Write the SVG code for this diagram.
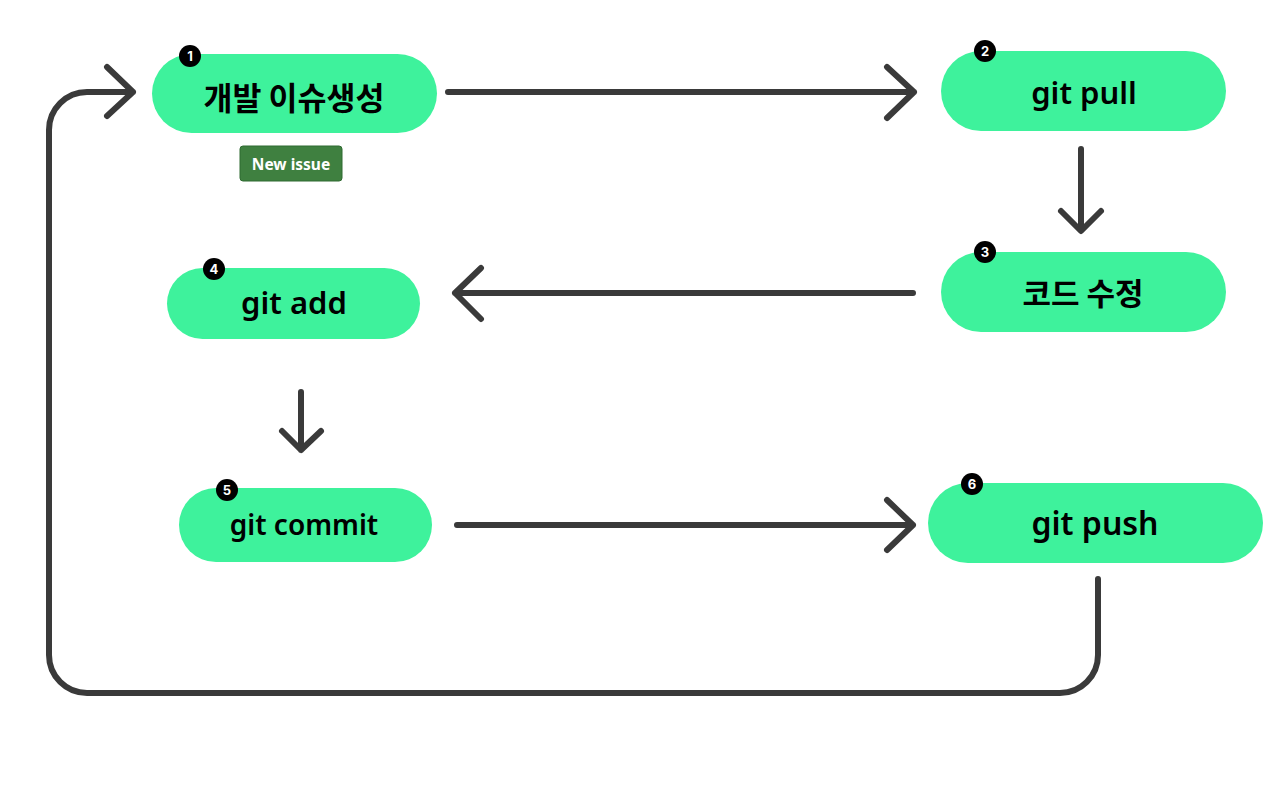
<svg xmlns="http://www.w3.org/2000/svg" width="1280" height="788" viewBox="0 0 1280 788">
<style>
.pill{fill:#3ef29c}
.lbl{font-family:"Noto Sans","Noto Sans CJK KR",sans-serif;font-weight:600;fill:#000;text-anchor:middle;dominant-baseline:central}
.kr{font-family:"Noto Sans CJK KR","Noto Sans",sans-serif;font-weight:700;fill:#000;text-anchor:middle;dominant-baseline:central}
.badge{fill:#000}
.num{font-family:Inter,"Liberation Sans",sans-serif;font-weight:700;font-size:13px;fill:#fff;text-anchor:middle;dominant-baseline:central}
.con{fill:none;stroke:#3a3a3a;stroke-width:6;stroke-linecap:round;stroke-linejoin:round}
</style>
<rect width="1280" height="788" fill="#fff"/>
<g id="connectors">
<path class="con" d="M448 92 H914 M887 67 L914 92 L887 118"/>
<path class="con" d="M1081 149 V230 M1061 211 L1081 231 L1101 211"/>
<path class="con" d="M913 293 H455 M481 268 L455 293 L481 319"/>
<path class="con" d="M301 392 V450 M282 431 L301 450 L321 431"/>
<path class="con" d="M457 525 H913 M887 500 L913 525 L887 550"/>
<path class="con" d="M1098 579 V655 A38 38 0 0 1 1060 693 H87 A38 38 0 0 1 49 655 V130 A38 38 0 0 1 87 92 H133 M107 67 L133 92 L107 116"/>
</g>
<g id="node1">
<rect class="pill" x="152" y="54" width="285" height="79" rx="39.5"/>
<text class="kr" x="294" y="96" font-size="31.5">개발 이슈생성</text>
<circle class="badge" cx="190" cy="56" r="11"/>
<text class="num" x="190" y="56">1</text>
</g>
<g id="new-issue">
<rect x="240" y="146" width="102" height="35" rx="3" fill="#3f8040" stroke="#2f6a31" stroke-width="1"/>
<text x="291" y="164" font-family="'Noto Sans',sans-serif" font-weight="700" font-size="15.5" fill="#fff" text-anchor="middle" dominant-baseline="central">New issue</text>
</g>
<g id="node2">
<rect class="pill" x="941" y="51" width="285" height="80" rx="40"/>
<text class="lbl" x="1084" y="92" font-size="31">git pull</text>
<circle class="badge" cx="985" cy="51" r="11"/>
<text class="num" x="985" y="51">2</text>
</g>
<g id="node3">
<rect class="pill" x="941" y="252" width="285" height="80" rx="40"/>
<text class="kr" x="1083" y="291" font-size="31">코드 수정</text>
<circle class="badge" cx="985" cy="252" r="11"/>
<text class="num" x="985" y="252">3</text>
</g>
<g id="node4">
<rect class="pill" x="167" y="268" width="253" height="71" rx="35.5"/>
<text class="lbl" x="294" y="302" font-size="31">git add</text>
<circle class="badge" cx="214" cy="269" r="11"/>
<text class="num" x="214" y="269">4</text>
</g>
<g id="node5">
<rect class="pill" x="179" y="488" width="253" height="74" rx="37"/>
<text class="lbl" x="304" y="524" font-size="28">git commit</text>
<circle class="badge" cx="227" cy="490" r="11"/>
<text class="num" x="227" y="490">5</text>
</g>
<g id="node6">
<rect class="pill" x="928" y="483" width="335" height="80" rx="40"/>
<text class="lbl" x="1095" y="522" font-size="32">git push</text>
<circle class="badge" cx="972" cy="484" r="11"/>
<text class="num" x="972" y="484">6</text>
</g>
</svg>
